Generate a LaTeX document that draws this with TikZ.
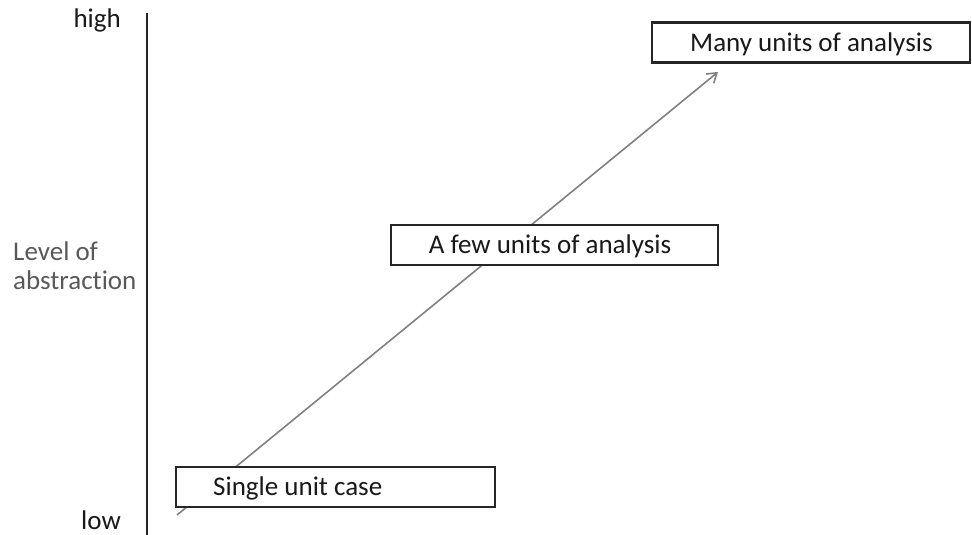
\documentclass[tikz,border=0pt]{standalone}
\usepackage{fontspec}
\setmainfont[Ligatures={NoCommon}]{Carlito}
\usetikzlibrary{arrows.meta}
\begin{document}
\begin{tikzpicture}[x=1pt,y=-1pt,
  unitbox/.style={draw=black!85,line width=2.4pt,fill=white,inner sep=0pt},
  lbl/.style={font=\fontsize{27}{30}\selectfont,text=black!90,inner sep=0pt},
  axislbl/.style={font=\fontsize{27}{29}\selectfont,text=black!65,inner sep=0pt,align=left},
  trend/.style={draw=black!50,line width=1.6pt,-{Straight Barb[length=9pt,width=12pt,line width=1.6pt]}}]
\useasboundingbox (0,0) rectangle (972,535);
% axis
\coordinate (axtop) at (147,13);
\coordinate (axbot) at (147,535);
\draw[line width=1.8pt,black!85] (axtop) -- (axbot);
\node[lbl,anchor=east] (high) at (121,20) {high};
\node[lbl,anchor=east] (low) at (121,520) {low};
\node[axislbl,anchor=west] (lev) at (13,266) {Level of\\abstraction};
% trend arrow
\coordinate (start) at (177,515);
\coordinate (tip) at (718,72);
\draw[trend] (start) -- (tip);
% boxes
\node[unitbox,minimum width=319pt,minimum height=40pt] (single) at (335.5,487) {};
\node[lbl,anchor=west] (singlet) at (213,488) {Single unit case};
\node[unitbox,minimum width=327pt,minimum height=40pt] (few) at (554.5,245) {};
\node[lbl] (fewt) at (550,246) {A few units of analysis};
\node[unitbox,minimum width=318pt,minimum height=40pt] (many) at (811,42.5) {};
\node[lbl,anchor=west] (manyt) at (690,44) {Many units of analysis};
\end{tikzpicture}
\end{document}
